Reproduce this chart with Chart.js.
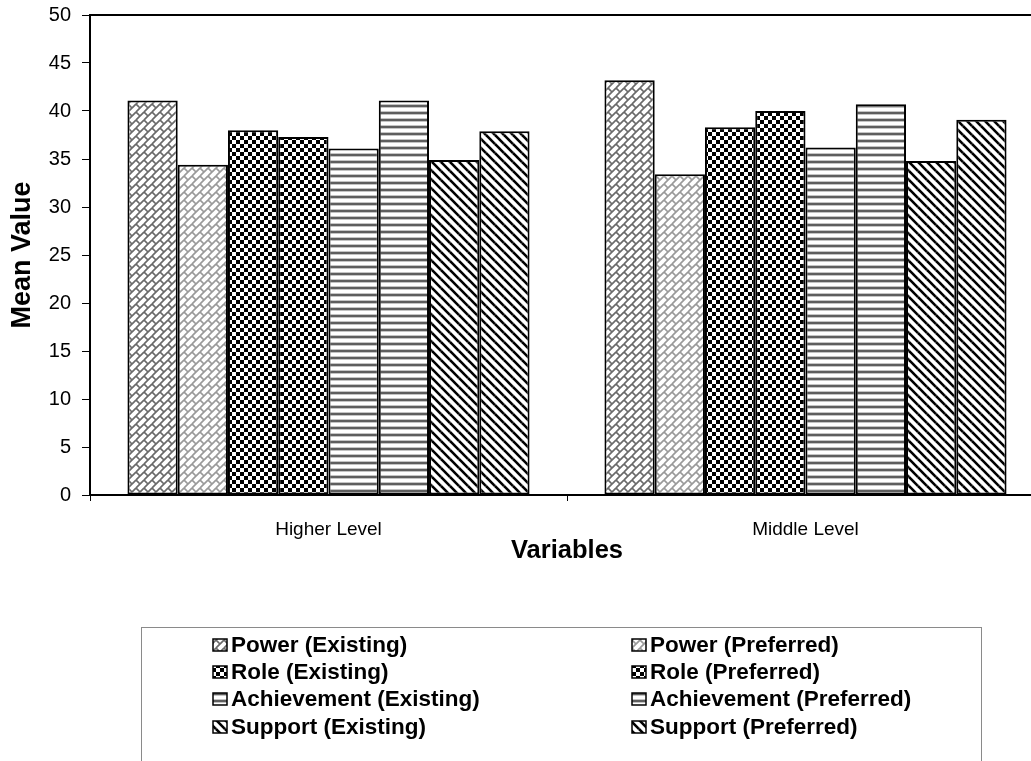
<!DOCTYPE html>
<html>
<head>
<meta charset="utf-8">
<script src="https://cdn.jsdelivr.net/npm/chart.js@4.4.1/dist/chart.umd.min.js"></script>
<style>
  html, body { margin: 0; padding: 0; background: #fff; overflow: hidden; }
</style>
</head>
<body>
<canvas id="chart" width="1060" height="761"></canvas>
<script>
// data
const categories = ["Higher Level", "Middle Level"];
const seriesNames = [
  "Power (Existing)", "Power (Preferred)",
  "Role (Existing)", "Role (Preferred)",
  "Achievement (Existing)", "Achievement (Preferred)",
  "Support (Existing)", "Support (Preferred)"
];
const powerExisting = [41.1, 43.2];
const powerPreferred = [34.4, 33.4];
const roleExisting = [38.0, 38.3];
const rolePreferred = [37.3, 40.0];
const achievementExisting = [36.1, 36.2];
const achievementPreferred = [41.1, 40.7];
const supportExisting = [34.9, 34.8];
const supportPreferred = [37.9, 39.1];
const yTicks = [0, 5, 10, 15, 20, 25, 30, 35, 40, 45, 50];

const FONT = "'Liberation Sans', Arial, sans-serif";

function makeTile(size, draw) {
    const c = document.createElement("canvas");
    c.width = size;
    c.height = size;
    const g = c.getContext("2d");
    g.fillStyle = "#fff";
    g.fillRect(0, 0, size, size);
    draw(g, size);
    return document.getElementById("chart").getContext("2d").createPattern(c, "repeat");
}

// draw a set of segments with wrap-around so the tile repeats cleanly
function wrapSegments(g, t, segs) {
    for (let ox = -t; ox <= t; ox += t) {
        for (let oy = -t; oy <= t; oy += t) {
            segs.forEach(s => {
                g.beginPath();
                g.moveTo(s[0] + ox, s[1] + oy);
                g.lineTo(s[2] + ox, s[3] + oy);
                g.stroke();
            });
        }
    }
}

// diagonal brick: one up-right line plus a staggered separator per tile
function brick(color) {
    return makeTile(8, (g, t) => {
        g.strokeStyle = color;
        g.lineWidth = 1.7;
        wrapSegments(g, t, [
            [0, 8, 8, 0],
            [0, 0, 4, 4]
        ]);
    });
}

function checker() {
    return makeTile(8, (g) => {
        g.fillStyle = "#000";
        g.fillRect(0, 0, 4, 4);
        g.fillRect(4, 4, 4, 4);
    });
}

function stripes() {
    return makeTile(7, (g, t) => {
        g.fillStyle = "#5e5e5e";
        g.fillRect(0, 0, t, 2);
        g.fillStyle = "#c4c4c4";
        g.fillRect(0, 2, t, 1);
        g.fillRect(0, 6, t, 1);
    });
}

function diagonal() {
    return makeTile(9, (g, t) => {
        g.strokeStyle = "#000";
        g.lineWidth = 2.6;
        wrapSegments(g, t, [[0, 0, 9, 9]]);
    });
}

const fills = [
    brick("#6a6a6a"), brick("#9a9a9a"),
    checker(), checker(),
    stripes(), stripes(),
    diagonal(), diagonal()
];
const values = [
    powerExisting, powerPreferred,
    roleExisting, rolePreferred,
    achievementExisting, achievementPreferred,
    supportExisting, supportPreferred
];

const datasets = seriesNames.map((name, i) => ({
    label: name,
    data: values[i],
    backgroundColor: fills[i],
    borderColor: "#000",
    borderWidth: 2,
    borderSkipped: false,
    categoryPercentage: 0.843,
    barPercentage: 1
}));

const frame = {
    id: "frame",
    afterDatasetsDraw(chart) {
        const { ctx, chartArea: a } = chart;
        ctx.save();
        ctx.strokeStyle = "#000";
        ctx.lineWidth = 2;
        ctx.strokeRect(a.left, a.top, a.right - a.left, a.bottom - a.top);
        ctx.restore();
    }
};

const boxLegend = {
    id: "boxLegend",
    afterDraw(chart) {
        const ctx = chart.ctx;
        const box = { left: 141, top: 627, right: 981, bottom: 790 };
        const cols = [213, 632];
        const rowY = [645, 672, 699, 727];
        ctx.save();
        ctx.strokeStyle = "#8a8a8a";
        ctx.lineWidth = 1;
        ctx.strokeRect(box.left + 0.5, box.top + 0.5, box.right - box.left, box.bottom - box.top);
        ctx.font = "bold 22.5px " + FONT;
        ctx.textBaseline = "middle";
        ctx.fillStyle = "#000";
        chart.data.datasets.forEach((ds, i) => {
            const x = cols[i % 2];
            const y = rowY[Math.floor(i / 2)];
            ctx.fillStyle = ds.backgroundColor;
            ctx.fillRect(x, y - 6, 14, 12);
            ctx.strokeStyle = "#000";
            ctx.lineWidth = 1.5;
            ctx.strokeRect(x, y - 6, 14, 12);
            ctx.fillStyle = "#000";
            ctx.fillText(ds.label, x + 18, y + 1);
        });
        ctx.restore();
    }
};

new Chart(document.getElementById("chart"), {
    type: "bar",
    data: { labels: categories, datasets: datasets },
    plugins: [frame, boxLegend],
    options: {
        responsive: false,
        animation: false,
        events: [],
        layout: { padding: { top: 15, right: 16, bottom: 189, left: 0 } },
        plugins: { legend: { display: false }, tooltip: { enabled: false } },
        scales: {
            x: {
                grid: { drawOnChartArea: false, drawTicks: true, tickLength: 6, color: "#000", offset: true },
                border: { color: "#000", width: 2 },
                ticks: { color: "#000", font: { family: FONT, size: 19 }, padding: 17 },
                title: {
                    display: true, text: "Variables", color: "#000",
                    font: { family: FONT, size: 25.5, weight: "bold" },
                    padding: { top: 0, bottom: 6 }
                },
                afterFit: s => { s.height = 77; }
            },
            y: {
                min: 0,
                max: 50,
                afterBuildTicks: s => { s.ticks = yTicks.map(v => ({ value: v })); },
                grid: { drawOnChartArea: false, tickLength: 8, color: "#000" },
                border: { color: "#000", width: 2 },
                ticks: { color: "#000", font: { family: FONT, size: 20 }, padding: 11 },
                title: {
                    display: true, text: "Mean Value", color: "#000",
                    font: { family: FONT, size: 27, weight: "bold" },
                    padding: { top: 6, bottom: 0 }
                },
                afterFit: s => {
                    s.width = 90;
                    s.paddingTop = 0;
                    s.paddingBottom = 0;
                }
            }
        }
    }
});
</script>
</body>
</html>
